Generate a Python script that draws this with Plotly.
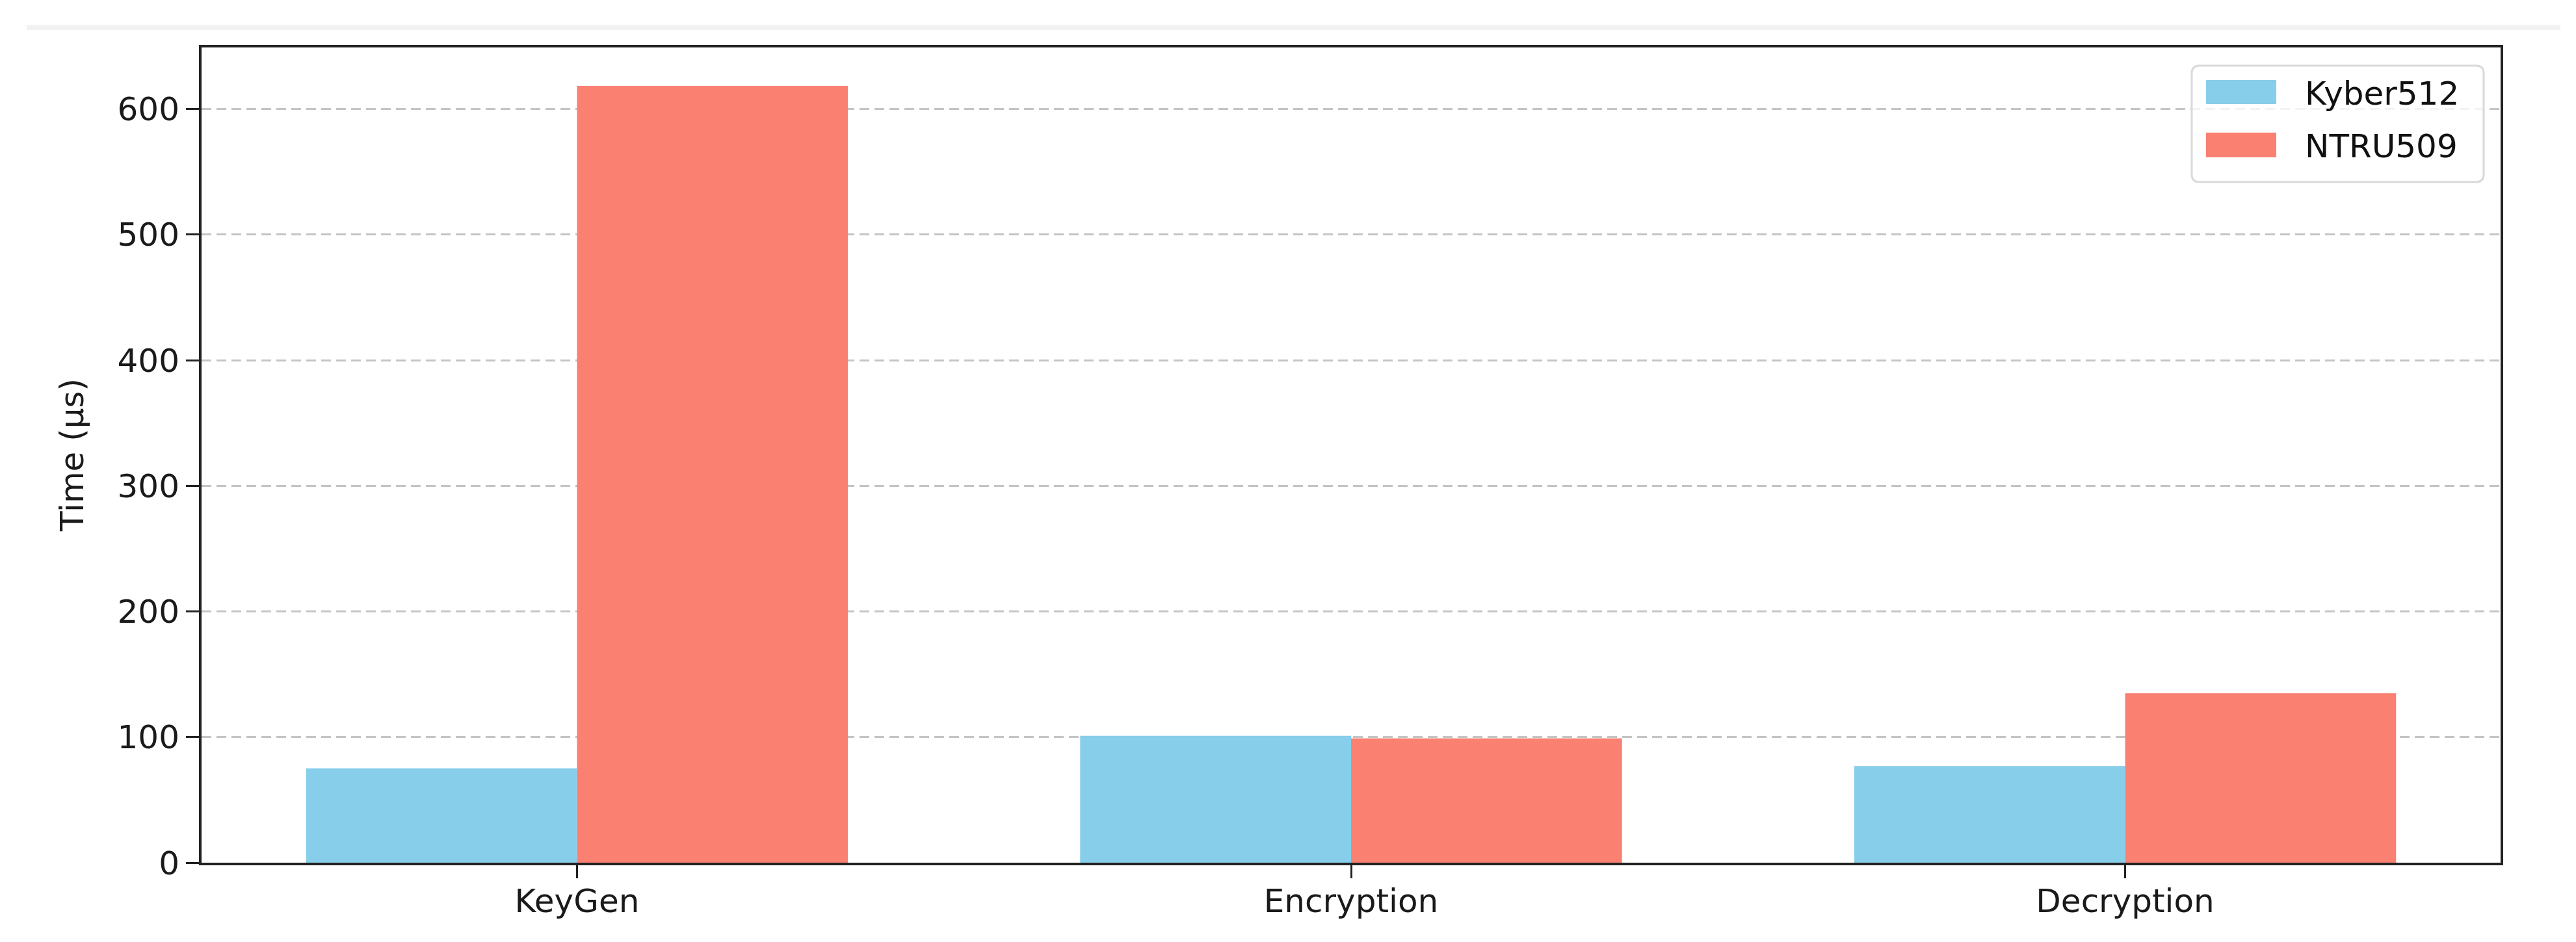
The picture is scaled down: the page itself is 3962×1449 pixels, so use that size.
import plotly.graph_objects as go

categories = ["KeyGen", "Encryption", "Decryption"]
kyber512 = [75, 101, 77]
ntru509 = [618.5, 99, 135]
series_names = ["Kyber512", "NTRU509"]
series_colors = ["#87CEEB", "#FA8072"]
y_ticks = [0, 100, 200, 300, 400, 500, 600]

FONT = "DejaVu Sans"
W, H = 3962, 1449
L, R, T, B = 302, 124, 65, 130
PW, PH = W - L - R, H - T - B


def px(xp):
    return (xp - L) / PW


def py(yp):
    return (H - B - yp) / PH


fig = go.Figure()
for name, vals, col in zip(series_names, [kyber512, ntru509], series_colors):
    fig.add_trace(go.Bar(x=categories, y=vals, name=name, showlegend=False,
                         marker=dict(color=col, line=dict(width=0))))

fig.update_layout(
    width=W, height=H,
    margin=dict(l=L, r=R, t=T, b=B, autoexpand=False),
    paper_bgcolor="white", plot_bgcolor="white",
    barmode="group", bargap=0.3, bargroupgap=0,
    font=dict(family=FONT, size=50, color="#1a1a1a"),
    showlegend=False,
)

fig.update_xaxes(
    type="category", range=[-0.485, 2.485],
    showline=True, linecolor="#222222", linewidth=4, mirror=True,
    ticks="outside", ticklen=20, tickwidth=3, tickcolor="#222222",
    tickfont=dict(family=FONT, size=50, color="#1a1a1a"),
    ticklabelstandoff=-8,
    showgrid=False, zeroline=False, layer="above traces",
)
fig.update_yaxes(
    range=[0, 649], tickmode="array", tickvals=y_ticks,
    ticktext=[str(v) for v in y_ticks],
    showline=True, linecolor="#222222", linewidth=4, mirror=True,
    ticks="outside", ticklen=20, tickwidth=3, tickcolor="#222222",
    tickfont=dict(family=FONT, size=50, color="#1a1a1a"),
    showgrid=True, gridcolor="#c4c4c4", gridwidth=3, griddash="15px,8px",
    zeroline=False, layer="above traces",
)

# y-axis title
fig.add_annotation(text="Time (µs)", xref="paper", yref="paper",
                   x=px(103), y=0.5, xanchor="center", yanchor="middle",
                   textangle=-90, showarrow=False,
                   font=dict(family=FONT, size=50, color="#1a1a1a"))

# faint separator line at the very top of the page
fig.add_shape(type="rect", xref="paper", yref="paper",
              x0=px(33), x1=px(3930), y0=py(38), y1=py(30),
              fillcolor="#f2f2f2", line=dict(width=0), layer="below")

# legend box (rounded) with swatches and labels
bx0, bx1, by0, by1 = 3363, 3812, 93, 272
rr = 12
path = (
    f"M {px(bx0 + rr)},{py(by0)} L {px(bx1 - rr)},{py(by0)} "
    f"Q {px(bx1)},{py(by0)} {px(bx1)},{py(by0 + rr)} "
    f"L {px(bx1)},{py(by1 - rr)} Q {px(bx1)},{py(by1)} {px(bx1 - rr)},{py(by1)} "
    f"L {px(bx0 + rr)},{py(by1)} Q {px(bx0)},{py(by1)} {px(bx0)},{py(by1 - rr)} "
    f"L {px(bx0)},{py(by0 + rr)} Q {px(bx0)},{py(by0)} {px(bx0 + rr)},{py(by0)} Z"
)
fig.add_shape(type="path", xref="paper", yref="paper", path=path,
              fillcolor="rgba(255,255,255,0.8)", line=dict(color="#d9d9d9", width=3))

swatch_rows = [(115, 152), (196, 234)]
for (s0, s1), name, col in zip(swatch_rows, series_names, series_colors):
    fig.add_shape(type="rect", xref="paper", yref="paper",
                  x0=px(3385), x1=px(3493), y0=py(s1), y1=py(s0),
                  fillcolor=col, line=dict(width=0))
    fig.add_annotation(text=name, xref="paper", yref="paper",
                       x=px(3535), y=py((s0 + s1) / 2 + 2), xanchor="left", yanchor="middle",
                       showarrow=False,
                       font=dict(family=FONT, size=50, color="#111111"))

fig.write_html("out.html")
